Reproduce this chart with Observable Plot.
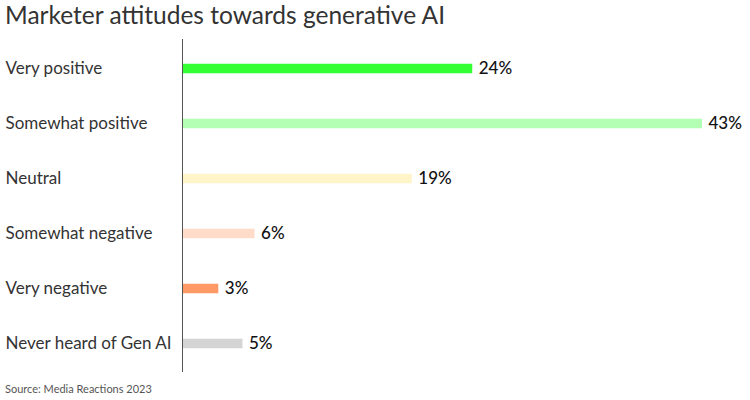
<!DOCTYPE html>
<html>
<head>
<meta charset="utf-8">
<script src="https://cdn.jsdelivr.net/npm/d3@7"></script>
<script src="https://cdn.jsdelivr.net/npm/@observablehq/plot@0.6"></script>
<style>
  html, body { margin: 0; padding: 0; background: #fff; }
  body { width: 750px; height: 400px; overflow: hidden; font-family: Lato, "Open Sans", sans-serif; }
  #title { height: 36px; line-height: 30px; padding-left: 5px; font-size: 24.5px; color: #333; }
  #caption { padding-left: 5px; font-size: 11px; color: #555; line-height: 14px; margin-top: 0px; }
</style>
</head>
<body>
<div id="title">Marketer attitudes towards generative AI</div>
<div id="chart"></div>
<div id="caption">Source: Media Reactions 2023</div>
<script>
const categories = ["Very positive", "Somewhat positive", "Neutral", "Somewhat negative", "Very negative", "Never heard of Gen AI"];
const values = [24, 43, 19, 6, 3, 5];
const colors = ["#33ff33", "#b3ffb3", "#fff5c8", "#ffdcca", "#ff9966", "#d4d4d4"];

const data = categories.map((c, i) => ({label: c, value: values[i], color: colors[i]}));

const chart = Plot.plot({
  width: 750,
  height: 346,
  marginLeft: 182,
  marginRight: 48,
  marginTop: 3,
  marginBottom: 10,
  style: {fontFamily: "Lato, 'Open Sans', sans-serif", color: "#333", background: "#fff"},
  x: {domain: [0, 43], axis: null},
  y: {domain: categories, axis: null, padding: 0},
  marks: [
    Plot.barX(data, {x: "value", y: "label", fill: "color", insetTop: 22.75, insetBottom: 22.75}),
    Plot.ruleX([0], {stroke: "#555", strokeWidth: 1}),
    Plot.text(data, {y: "label", text: "label", frameAnchor: "left", textAnchor: "start", dx: -177, fontSize: 17, fill: "#333"}),
    Plot.text(data, {x: "value", y: "label", text: d => d.value + "%", textAnchor: "start", dx: 6, fontSize: 17, fontWeight: 500, fill: "#111"})
  ]
});
document.getElementById("chart").appendChild(chart);
</script>
</body>
</html>
